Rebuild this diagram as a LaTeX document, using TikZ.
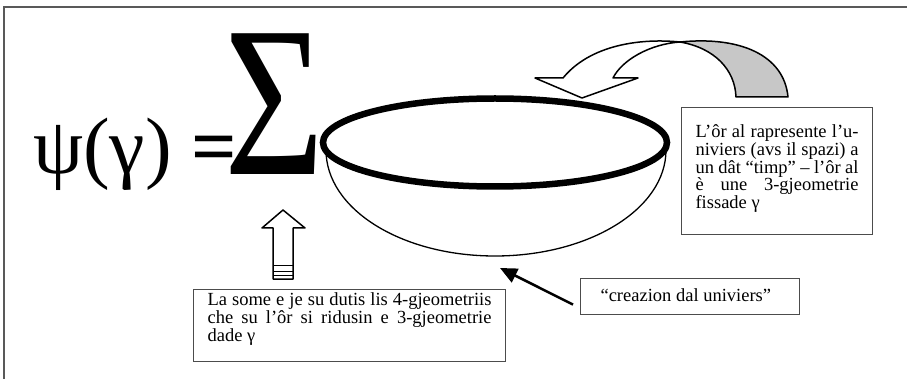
\documentclass[tikz,border=0pt]{standalone}
\usepackage{fontspec}
\setmainfont{Liberation Serif}
\usetikzlibrary{arrows.meta,positioning,calc}

\tolerance=9999
\hbadness=10000
\setlength{\lineskiplimit}{-100pt}

\tikzset{
  txtbox/.style={draw=black!70, line width=1.1pt, fill=white, inner ysep=0pt, inner xsep=14pt,
    anchor=north west, font=\fontsize{18.5}{16.7}\selectfont},
  blockarrow/.style={draw=black, line width=1.5pt, line join=round, fill=white},
}

\begin{document}
\begin{tikzpicture}[x=1pt, y=-1pt]
    \useasboundingbox (0,0) rectangle (907,379);
    % frame, only top and left edge are visible
    \draw[black!65, line width=1.6pt] (4,379) -- (4,7) -- (907,7);

    % formula
    \node[anchor=base west, inner sep=0pt, font=\fontsize{80}{80}\selectfont] (psi) at (33,174) {ψ(γ) \textbf{=}};
    \node[anchor=base, inner sep=0pt, font=\fontsize{215}{215}\selectfont] (sum) at (275,175) {\scalebox{0.8}[1]{Σ}};

    % bowl
    \coordinate (bowlbot) at (495,256);
    \draw[line width=1.3pt] (326,150) .. controls (326,209) and (401,256) .. (bowlbot) .. controls (589,256) and (666,209) .. (666,150);
    \draw[line width=6.5pt] (495,142.5) ellipse [x radius=172pt, y radius=44pt];

    % curved arrow over the rim
    \draw[blockarrow, fill=black!22] (680,42) .. controls (740,36) and (784,55) .. (788,97) -- (736,97) .. controls (735,70) and (715,48) .. (680,42) -- cycle;
    \draw[blockarrow] (582,98) -- (535,78) -- (563,78) .. controls (590,45) and (640,38) .. (680,42) .. controls (650,44) and (622,60) .. (613,78) -- (638,78) -- cycle;

    % hollow arrow up to the sum
    \draw[blockarrow] (283,210) -- (305,228) -- (293,228) -- (293,279) -- (273,279) -- (273,228) -- (262,228) -- cycle;
    \foreach \yy in {266,272,276}
        \draw[line width=1pt] (273,\yy) -- (293,\yy);

    % text boxes
    \node[txtbox] (orbox) at (681,107) {\parbox[c][127pt][t]{163pt}{\rule{0pt}{30pt}L’ôr al rapresente l’u-\linebreak niviers (avs il spazi) a\linebreak un dât “timp” – l’ôr al\linebreak è une 3-gjeometrie\linebreak fissade γ}};
    \node[txtbox] (somebox) at (193,289) {\parbox[c][72pt][t]{284pt}{\rule{0pt}{16pt}La some e je su dutis lis 4-gjeometriis\linebreak che su l’ôr si ridusin e 3-gjeometrie\linebreak dade γ}};
    \node[txtbox, inner xsep=20pt] (crebox) at (580,278) {\parbox[c][36pt][t]{179pt}{\rule{0pt}{23pt}“creazion dal univiers”}};

    \draw[line width=2.5pt, -{Triangle[length=17pt, width=15pt]}] ($(crebox.west)+(-7,8)$) -- ($(bowlbot)+(5,12)$);
\end{tikzpicture}
\end{document}
